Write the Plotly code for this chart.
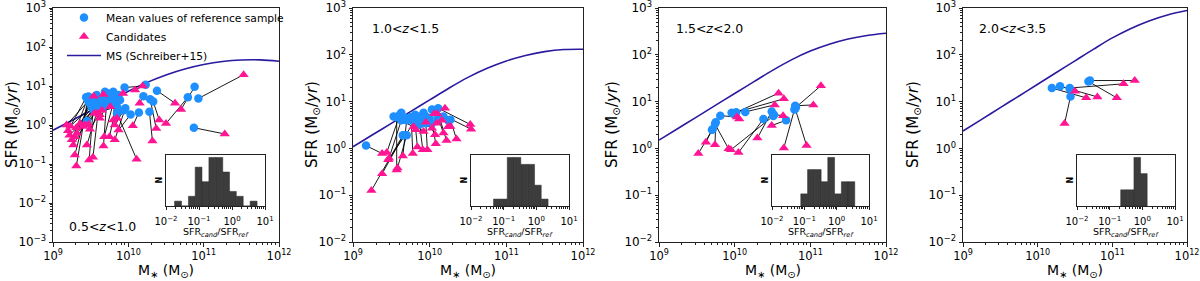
import numpy as np
import plotly.graph_objects as go

W, H = 1200, 281
FONT = "DejaVu Sans"

# ---------------- data ----------------
# Main-sequence curve (Schreiber+15)
ms_logm = [9.0, 9.25, 9.5, 9.75, 10.0, 10.25, 10.5, 10.75, 11.0, 11.25, 11.5, 11.75, 12.0]
ms_sfr_p1 = [0.737, 1.31, 2.33, 4.14, 7.37, 12.4, 19.2, 27.3, 35.5, 42.5, 46.5, 46.7, 43.1]
ms_sfr_p2 = [1.085, 1.93, 3.43, 6.10, 10.85, 19.3, 32.9, 51.4, 73.8, 97.0, 117.1, 129.7, 131.6]
ms_sfr_p3 = [1.50, 2.66, 4.73, 8.41, 14.9, 26.4, 46.5, 78.0, 120.0, 168.0, 217.0, 258.0, 288.0]
ms_sfr_p4 = [2.35, 4.18, 7.44, 13.2, 23.5, 41.8, 74.4, 132.3, 229.6, 366.6, 536.6, 720.9, 888.3]

z_labels = ["0.5&lt;<i>z</i>&lt;1.0", "1.0&lt;<i>z</i>&lt;1.5", "1.5&lt;<i>z</i>&lt;2.0", "2.0&lt;<i>z</i>&lt;3.5"]

# Pairs: (log M ref, log SFR ref, log M cand, log SFR cand)
p1_ref_logm = [10.93, 10.87, 10.79, 10.88, 10.38, 10.33, 10.29, 10.28, 9.85, 10.14, 10.20, 10.23, 9.95,
               9.69, 9.58, 9.80, 9.76, 9.82, 9.87, 9.71, 9.62, 9.54, 9.46, 9.47, 9.45, 9.44, 9.48, 9.49,
               9.62, 9.58, 9.76, 9.78, 9.94, 10.03, 9.67, 9.65, 9.56, 9.60, 9.71, 9.51, 9.54, 9.58, 9.80,
               9.96, 9.85, 9.89, 9.80, 9.73, 9.47]
p1_ref_logsfr = [0.68, -0.07, 0.71, 0.98, 0.88, 0.60, 0.66, 0.34, 0.30, 0.32, 0.74, 1.03, 0.96,
                 0.85, 0.77, 0.85, 0.73, 0.64, 0.77, 0.56, 0.68, 0.60, 0.66, 0.60, 0.10, 0.71, 0.64, 0.56,
                 0.56, 0.64, 0.64, 0.68, 0.38, 0.27, 0.47, 0.64, 0.56, 0.51, 0.64, 0.47, 0.38, 0.43, 0.56,
                 0.43, 0.47, 0.64, 0.60, 0.81, 0.73]
p1_cand_logm = [11.53, 11.28, 10.50, 10.70, 10.62, 10.41, 10.37, 10.32, 10.11, 10.06, 10.15, 10.09, 10.19,
                9.67, 9.54, 9.93, 9.76, 9.80, 9.75, 9.67, 9.53, 9.48, 9.31, 9.29, 9.27, 9.20, 9.18, 9.29,
                9.45, 9.40, 9.62, 9.59, 9.82, 9.87, 9.49, 9.47, 9.31, 9.36, 9.42, 9.23, 9.22, 9.32, 9.68,
                9.82, 9.55, 9.65, 9.85, 9.62, 9.25]
p1_cand_logsfr = [1.29, -0.23, 0.04, 0.40, 0.56, 0.13, -0.09, -0.41, -0.88, -0.02, 0.56, 0.90, 1.00,
                  0.78, 0.74, 0.81, 0.47, 0.13, -0.30, -0.54, -0.83, -0.90, -1.05, -0.77, -0.51, -0.15, 0.00, -0.30,
                  -0.51, -0.04, 0.17, 0.30, 0.00, -0.13, -0.11, 0.02, -0.07, 0.04, 0.00, -0.03, -0.26, -0.21, -0.30,
                  -0.38, 0.30, 0.38, 0.17, 0.26, -0.38]

p2_ref_logm = [9.17, 9.65, 9.66, 9.63, 9.70, 9.70, 9.76, 9.81, 9.87, 9.95, 10.03, 10.13, 9.98, 10.11, 10.24,
               10.11, 10.03, 9.84, 9.95, 9.89, 9.81, 9.53, 9.63, 9.70, 9.76, 9.57, 9.85, 9.61, 10.18, 10.27,
               10.00, 9.92]
p2_ref_logsfr = [0.06, 0.28, 0.28, 0.60, 0.28, 0.60, 0.61, 0.54, 0.51, 0.54, 0.54, 0.65, 0.58, 0.65, 0.60,
                 0.86, 0.83, 0.61, 0.68, 0.60, 0.72, 0.68, 0.76, 0.65, 0.67, 0.67, 0.68, 0.72, 0.68, 0.61,
                 0.65, 0.76]
p2_cand_logm = [9.38, 9.24, 9.38, 9.47, 9.58, 9.65, 9.78, 9.84, 9.91, 9.97, 10.08, 10.22, 10.07, 10.18, 10.24,
                10.53, 10.54, 10.20, 10.10, 10.16, 9.95, 9.79, 9.82, 9.92, 10.03, 9.57, 9.46, 9.44, 10.27, 10.35,
                10.06, 10.09]
p2_cand_logsfr = [-0.11, -0.90, -0.54, -0.21, -0.42, -0.16, -0.11, 0.03, -0.03, -0.03, 0.10, 0.17, 0.29, 0.33, 0.46,
                  0.51, 0.41, 0.86, 0.74, 0.60, 0.56, 0.46, 0.40, 0.36, 0.43, -0.46, -0.24, -0.09, 0.47, 0.20,
                  0.74, 0.54]

p3_ref_logm = [9.71, 9.70, 9.75, 9.74, 10.51, 10.38, 9.96, 9.81, 10.49, 10.68, 9.98, 10.02, 10.14, 10.52,
               10.79, 10.80, 10.80, 10.81]
p3_ref_logsfr = [0.41, 0.40, 0.56, 0.52, 0.69, 0.63, 0.76, 0.70, 0.79, 0.60, 0.74, 0.77, 0.78, 0.72,
                 0.83, 0.85, 0.91, 0.88]
p3_cand_logm = [9.52, 9.62, 9.74, 9.92, 9.95, 10.05, 10.06, 10.03, 10.30, 10.49, 10.58, 10.65, 10.53, 10.64,
                10.65, 10.95, 11.04, 11.14]
p3_cand_logsfr = [-0.11, 0.13, 0.08, -0.01, -0.03, -0.09, 0.63, 0.67, 0.22, 0.49, 1.18, 1.06, 0.93, 0.70,
                  0.01, 0.06, 0.93, 1.34]

p4_ref_logm = [10.44, 10.70, 10.68, 10.43, 10.19, 10.30, 10.43]
p4_ref_logsfr = [1.11, 1.45, 1.43, 1.29, 1.29, 1.33, 1.27]
p4_cand_logm = [10.36, 11.30, 11.06, 11.15, 10.65, 10.80, 10.50]
p4_cand_logsfr = [0.53, 1.45, 1.08, 1.38, 1.08, 1.10, 1.22]

# Histograms of log10(SFR_cand / SFR_ref)
p1_bins = [-1.74, -1.53, -1.32, -1.115, -0.91, -0.70, -0.49, -0.28, -0.075, 0.13, 0.34, 0.55, 0.76]
p1_counts = [1, 0, 2, 8, 5, 10, 10, 7, 3, 2, 0, 1]
p2_bins = [-1.31, -1.10, -0.89, -0.68, -0.475, -0.265, -0.055, 0.15, 0.36]
p2_counts = [1, 1, 7, 7, 6, 6, 3, 1]
p3_bins = [-1.11, -0.90, -0.69, -0.48, -0.275, -0.065, 0.145, 0.35, 0.56]
p3_counts = [1, 3, 3, 2, 4, 1, 2, 2]
p4_bins = [-0.663, -0.46, -0.257, -0.054, 0.148]
p4_counts = [1, 1, 3, 2]

main_xticks = [1e9, 1e10, 1e11, 1e12]
main_xticktext = ["10<sup>9</sup>", "10<sup>10</sup>", "10<sup>11</sup>", "10<sup>12</sup>"]
inset_ticks = [-2, -1, 0, 1]
inset_ticktext = ["10<sup>\u22122</sup>", "10<sup>\u22121</sup>", "10<sup>0</sup>", "10<sup>1</sup>"]

# ---------------- styling / layout ----------------
C_REF = "#1E8FFF"
C_CAND = "#FF1493"
C_MS = "#2A1A9E"
C_HIST = "#3C3C3C"

main_x = [(53, 279), (353, 583), (659, 886), (963, 1187)]
main_y = (8, 242)
inset_x = [(166, 265), (471, 569), (772, 869), (1077, 1175)]
inset_y = (155, 206)
y_low = [-3, -2, -2, -2]

panels = [
    (p1_ref_logm, p1_ref_logsfr, p1_cand_logm, p1_cand_logsfr, ms_sfr_p1, p1_bins, p1_counts),
    (p2_ref_logm, p2_ref_logsfr, p2_cand_logm, p2_cand_logsfr, ms_sfr_p2, p2_bins, p2_counts),
    (p3_ref_logm, p3_ref_logsfr, p3_cand_logm, p3_cand_logsfr, ms_sfr_p3, p3_bins, p3_counts),
    (p4_ref_logm, p4_ref_logsfr, p4_cand_logm, p4_cand_logsfr, ms_sfr_p4, p4_bins, p4_counts),
]


def fx(x):
    return x / W


def fy(y):
    return 1 - y / H


fig = go.Figure()
layout = dict(
    template="none",
    width=W, height=H, margin=dict(l=0, r=0, t=0, b=0, pad=0, autoexpand=False),
    paper_bgcolor="white", plot_bgcolor="white",
    font=dict(family=FONT, color="black", size=11),
    showlegend=True,
    legend=dict(x=fx(62), y=fy(3), xanchor="left", yanchor="top",
                bgcolor="rgba(0,0,0,0)", borderwidth=0, font=dict(size=10.7, family=FONT),
                itemwidth=34, tracegroupgap=0),
)

main_minor = [k * 10.0 ** n for n in range(9, 12) for k in range(2, 10)]
inset_minor = [float(np.log10(k * 10.0 ** n)) for n in range(-2, 1) for k in range(2, 10)]
annotations = []

for i, (rm, rs, cm, cs, ms, bins, counts) in enumerate(panels):
    xa = f"x{i + 1}" if i else "x"
    ya = f"y{i + 1}" if i else "y"
    xi = f"x{i + 5}"
    yi = f"y{i + 5}"
    first = i == 0

    rM = 10.0 ** np.array(rm)
    rS = 10.0 ** np.array(rs)
    cM = 10.0 ** np.array(cm)
    cS = 10.0 ** np.array(cs)

    lx, ly = [], []
    for a, b, c, d in zip(rM, rS, cM, cS):
        lx += [a, c, None]
        ly += [b, d, None]

    fig.add_trace(go.Scatter(x=10.0 ** np.array(ms_logm), y=ms, mode="lines",
                             line=dict(color=C_MS, width=1.6, shape="spline"),
                             name="MS (Schreiber+15)", showlegend=first, legendrank=3,
                             xaxis=xa, yaxis=ya, hoverinfo="skip"))
    fig.add_trace(go.Scatter(x=lx, y=ly, mode="lines", line=dict(color="black", width=0.9),
                             showlegend=False, xaxis=xa, yaxis=ya, hoverinfo="skip"))
    fig.add_trace(go.Scatter(x=rM, y=rS, mode="markers",
                             marker=dict(symbol="circle", size=8.5, color=C_REF, line=dict(width=0)),
                             name="Mean values of reference sample", showlegend=first, legendrank=1,
                             xaxis=xa, yaxis=ya))
    fig.add_trace(go.Scatter(x=cM, y=cS, mode="markers",
                             marker=dict(symbol="triangle-up", size=9, color=C_CAND, line=dict(width=0)),
                             name="Candidates", showlegend=first, legendrank=2,
                             xaxis=xa, yaxis=ya))

    edges = np.array(bins)
    centers = (edges[:-1] + edges[1:]) / 2
    widths = np.diff(edges)
    fig.add_trace(go.Bar(x=centers, y=counts, width=widths,
                         marker=dict(color=C_HIST, line=dict(color="#2a2a2a", width=0.5)),
                         showlegend=False, xaxis=xi, yaxis=yi))

    x0, x1 = main_x[i]
    axis_common = dict(showline=True, linecolor="#222", linewidth=1, mirror=True,
                       ticks="outside", ticklen=3.5, tickwidth=0.8, tickcolor="#222",
                       showgrid=False, zeroline=False, automargin=False,
                       ticklabeloverflow="allow")
    layout["xaxis" + (str(i + 1) if i else "")] = dict(
        axis_common, type="log", range=[9, 12], domain=[fx(x0), fx(x1)],
        anchor=ya,
        tickvals=main_xticks, ticktext=main_xticktext, tickfont=dict(size=11.5),
        minor=dict(tickvals=main_minor, ticks="outside", ticklen=2, tickwidth=0.6, tickcolor="#222"))
    yvals = [10.0 ** k for k in range(y_low[i], 4)]
    ytext = ["10<sup>%s</sup>" % (str(k) if k >= 0 else "\u2212" + str(-k)) for k in range(y_low[i], 4)]
    yminor = [k * 10.0 ** n for n in range(y_low[i], 3) for k in range(2, 10)]
    layout["yaxis" + (str(i + 1) if i else "")] = dict(
        axis_common, type="log", range=[y_low[i], 3], domain=[fy(main_y[1]), fy(main_y[0])],
        anchor=xa, tickvals=yvals, ticktext=ytext, tickfont=dict(size=12),
        minor=dict(tickvals=yminor, ticks="outside", ticklen=2, tickwidth=0.6, tickcolor="#222"))

    ix0, ix1 = inset_x[i]
    layout[f"xaxis{i + 5}"] = dict(
        axis_common, range=[-2, 1], domain=[fx(ix0), fx(ix1)], anchor=yi,
        tickvals=inset_ticks, ticktext=inset_ticktext, tickfont=dict(size=10),
        ticklen=3, ticklabelstandoff=3,
        minor=dict(tickvals=inset_minor, ticks="outside", ticklen=1.6, tickwidth=0.5, tickcolor="#222"))
    layout[f"yaxis{i + 5}"] = dict(
        axis_common, range=[0, max(counts) * 1.05], domain=[fy(inset_y[1]), fy(inset_y[0])],
        anchor=xi, ticks="", showticklabels=False)

    # axis titles and labels
    annotations.append(dict(x=fx((x0 + x1) / 2), y=fy(270.5), xref="paper", yref="paper",
                            text="M<sub>\u2217</sub> (M<sub>\u2299</sub>)", showarrow=False,
                            font=dict(size=14), xanchor="center", yanchor="middle"))
    ylab_x = [12, 312, 612, 913][i]
    annotations.append(dict(x=fx(ylab_x), y=fy(125), xref="paper", yref="paper",
                            text="SFR (M<sub>\u2299</sub>/<i>yr</i>)", showarrow=False, textangle=-90,
                            font=dict(size=15), xanchor="center", yanchor="middle"))
    zx, zy = [(67, 226), (370, 28), (674, 28), (977, 28)][i]
    annotations.append(dict(x=fx(zx), y=fy(zy), xref="paper", yref="paper", text=z_labels[i],
                            showarrow=False, font=dict(size=12.5), xanchor="left", yanchor="middle"))
    annotations.append(dict(x=fx(ix0 - 7), y=fy((inset_y[0] + inset_y[1]) / 2), xref="paper", yref="paper",
                            text="<b>N</b>", showarrow=False, textangle=-90, font=dict(size=8),
                            xanchor="center", yanchor="middle"))
    annotations.append(dict(x=fx((ix0 + ix1) / 2), y=fy(232), xref="paper", yref="paper",
                            text="SFR<sub><i>cand</i></sub>/SFR<sub><i>ref</i></sub>", showarrow=False,
                            font=dict(size=9.5), xanchor="center", yanchor="middle"))

layout["annotations"] = annotations
fig.update_layout(**layout)
fig.write_html("out.html", config={"displayModeBar": False},
               post_script="document.body.style.margin='0';document.body.style.padding='0';")
